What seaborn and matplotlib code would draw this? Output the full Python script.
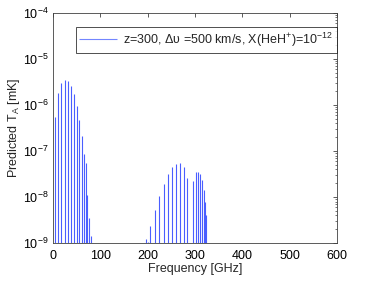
import numpy as np
import pandas as pd
import seaborn as sns
import matplotlib
matplotlib.use("Agg")
import matplotlib.pyplot as plt
from matplotlib.ticker import FixedLocator, NullFormatter

# Line centres [GHz] and peak antenna temperatures [mK]
freq_rot = [4.5, 11.0, 17.6, 24.5, 31.0, 37.4, 43.7, 50.0, 55.5, 60.5,
            65.0, 69.0, 72.5, 76.0, 79.5]
peak_rot = [5.6e-7, 1.8e-6, 3.0e-6, 3.5e-6, 3.3e-6, 2.6e-6, 1.7e-6, 9.5e-7,
            4.7e-7, 2.1e-7, 8.5e-8, 5.5e-8, 1.1e-8, 3.5e-9, 1.4e-9]

freq_vib = [196.0, 200.0, 205.6, 215.5, 224.6, 233.9, 243.6, 252.0, 260.5,
            269.0, 277.4, 283.8, 296.4, 302.0, 307.0, 311.2, 315.4, 319.0,
            322.0, 324.0]
peak_vib = [1.2e-9, 1.05e-9, 2.3e-9, 5.2e-9, 1.05e-8, 1.9e-8, 3.1e-8, 4.4e-8,
            5.2e-8, 5.5e-8, 4.6e-8, 2.6e-8, 2.2e-8, 3.5e-8, 3.5e-8, 3.2e-8,
            2.3e-8, 1.4e-8, 7.9e-9, 4.0e-9]

x_ticks = [0, 100, 200, 300, 400, 500, 600]
y_ticks = [1e-9, 1e-8, 1e-7, 1e-6, 1e-5, 1e-4]
label = r"z=300, $\Delta\upsilon$ =500 km/s, X(HeH$^{+}$)=10$^{-12}$"

df = pd.DataFrame({"freq": freq_rot + freq_vib, "TA": peak_rot + peak_vib})

sns.set_theme(style="white")
plt.rcParams["font.family"] = ["Liberation Sans", "DejaVu Sans"]
plt.rcParams["mathtext.fontset"] = "custom"
plt.rcParams["mathtext.rm"] = "Liberation Sans"
plt.rcParams["mathtext.it"] = "Liberation Sans:italic"
plt.rcParams["mathtext.default"] = "regular"
plt.rcParams["font.size"] = 9

fig = plt.figure(figsize=(3.74, 2.81), dpi=100)
ax = fig.add_axes([0.1417, 0.135, 0.759, 0.8187])

ax.vlines(df["freq"], 1e-9, df["TA"], color="#4a5eff", lw=0.8, label=label)

ax.set_yscale("log")
ax.set_xlim(0, 600)
ax.set_ylim(1e-9, 1e-4)
ax.set_xticks(x_ticks)
ax.set_yticks(y_ticks)
minor = [m * d for d in y_ticks[:-1] for m in range(2, 10)]
ax.yaxis.set_minor_locator(FixedLocator(minor))
ax.yaxis.set_minor_formatter(NullFormatter())

ax.tick_params(which="both", direction="in", top=True, right=True,
               labelsize=9, colors="#404040", labelcolor="black", pad=3)
ax.tick_params(axis="x", which="major", pad=5)
ax.tick_params(which="major", length=3, width=0.6)
ax.tick_params(which="minor", length=1.8, width=0.5)
for s in ax.spines.values():
    s.set_color("#404040")
    s.set_linewidth(0.6)

ax.set_xlabel("Frequency [GHz]", fontsize=9, labelpad=1)
ax.set_ylabel(r"Predicted T$_A$ [mK]", fontsize=9, labelpad=1)

leg = ax.legend(loc="upper right", bbox_to_anchor=(1.0, 0.94), fontsize=9,
                frameon=True, fancybox=False, borderpad=0.3,
                handlelength=3.0, handletextpad=0.5, borderaxespad=0.0)
leg.get_frame().set_edgecolor("black")
leg.get_frame().set_linewidth(0.6)
leg.get_lines()[0].set_linewidth(0.8)
leg.get_lines()[0].set_color("#7386ff")

fig.savefig("out.png", dpi=100)
